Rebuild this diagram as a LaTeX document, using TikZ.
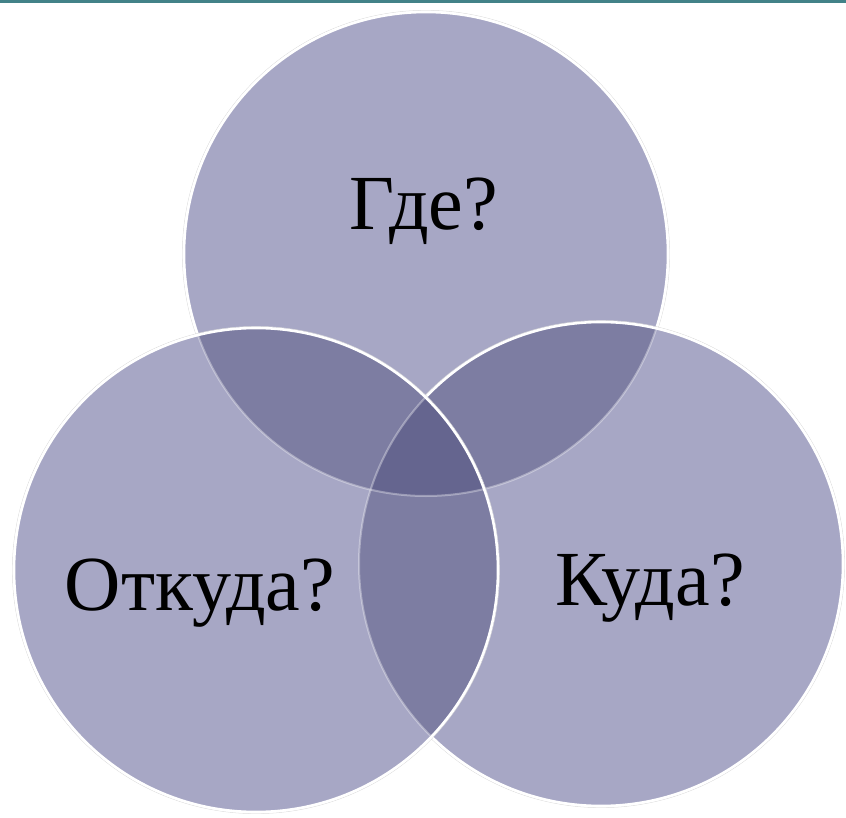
\documentclass[tikz,border=0pt]{standalone}
\usepackage{fontspec}
\setmainfont{Liberation Serif}
\definecolor{vsingle}{RGB}{167,167,197}
\definecolor{vdouble}{RGB}{125,125,162}
\definecolor{vtriple}{RGB}{101,101,143}
\definecolor{topbar}{RGB}{66,130,136}
\tikzset{
  edge/.style={draw=white, line width=2.6pt},
  faint/.style={draw=white, draw opacity=0.35, line width=2pt},
  rim/.style={draw=black!15, line width=0.5pt},
  label/.style={font=\fontsize{78}{84}\selectfont, anchor=base, inner sep=0pt}
}
\begin{document}
\begin{tikzpicture}[x=1pt,y=-1pt]
\useasboundingbox (0,0) rectangle (846,818);
\fill[topbar] (0,0) rectangle (846,3.5);
\coordinate (ct) at (426,254);
\coordinate (cl) at (256,570);
\coordinate (cr) at (601,564);
\def\rr{242}
% top circle
\draw[rim] (ct) circle (\rr+1.6);
\fill[vsingle] (ct) circle (\rr);
\path[edge] (ct) circle (\rr);
% right circle
\draw[rim] (cr) circle (\rr+1.6);
\fill[vsingle] (cr) circle (\rr);
\begin{scope}
  \clip (ct) circle (\rr);
  \fill[vdouble] (cr) circle (\rr);
\end{scope}
\begin{scope}
  \clip (cr) circle (\rr);
  \path[faint] (ct) circle (\rr);
\end{scope}
\path[edge] (cr) circle (\rr);
% left circle
\draw[rim] (cl) circle (\rr+1.6);
\fill[vsingle] (cl) circle (\rr);
\begin{scope}
  \clip (ct) circle (\rr);
  \fill[vdouble] (cl) circle (\rr);
\end{scope}
\begin{scope}
  \clip (cr) circle (\rr);
  \fill[vdouble] (cl) circle (\rr);
\end{scope}
\begin{scope}
  \clip (ct) circle (\rr);
  \clip (cr) circle (\rr);
  \fill[vtriple] (cl) circle (\rr);
\end{scope}
\begin{scope}
  \clip (cl) circle (\rr);
  \path[faint] (ct) circle (\rr);
  \path[faint] (cr) circle (\rr);
\end{scope}
\path[edge] (cl) circle (\rr);
% labels
\node[label] (gde) at (424,230) {Где?};
\node[label] (otkuda) at (200,610) {Откуда?};
\node[label] (kuda) at (650,605) {Куда?};
\end{tikzpicture}
\end{document}
